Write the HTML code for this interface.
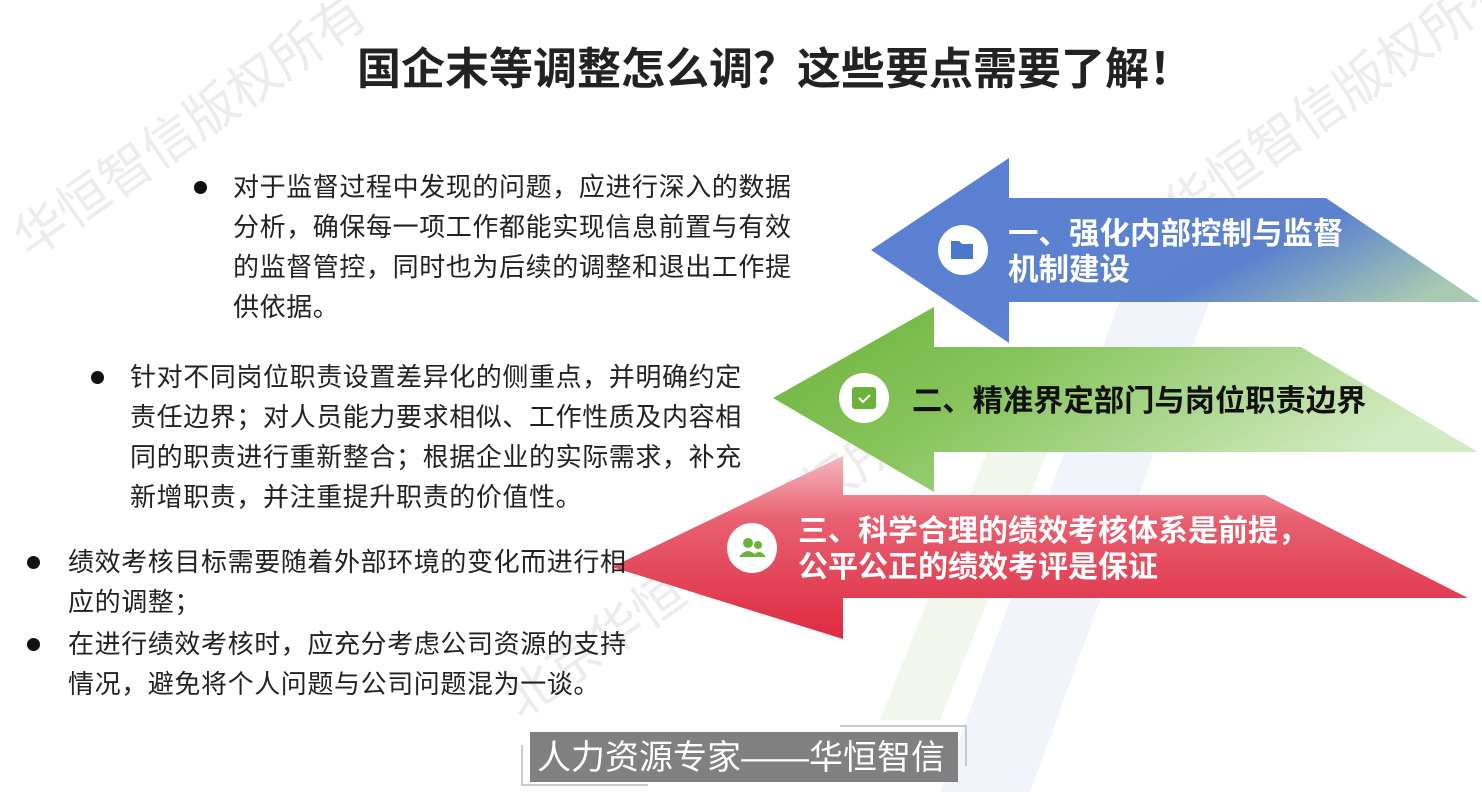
<!DOCTYPE html>
<html><head><meta charset="utf-8"><style>
html,body{margin:0;padding:0;background:#fff;}
body{width:1482px;height:792px;position:relative;overflow:hidden;font-family:"Liberation Sans","Noto Sans CJK SC",sans-serif;}
.t{position:absolute;font-size:26px;line-height:40px;color:#222;letter-spacing:0.6px;}
.b{position:absolute;width:13px;height:13px;border-radius:50%;background:#111;}
</style></head><body>
<svg width="1482" height="792" style="position:absolute;left:0;top:0">
<defs>
<linearGradient id="g1" x1="0" y1="0" x2="1" y2="0.6">
<stop offset="0" stop-color="#5a7fd2"/><stop offset="0.7" stop-color="#5c82cf"/><stop offset="1" stop-color="#a9cab1"/></linearGradient>
<linearGradient id="g2" x1="0" y1="0" x2="1" y2="0.4">
<stop offset="0" stop-color="#6db33c"/><stop offset="0.4" stop-color="#86c45a"/><stop offset="1" stop-color="#d3ebc4"/></linearGradient>
<linearGradient id="g3" x1="0" y1="0" x2="0" y2="1">
<stop offset="0" stop-color="#f4b8be"/><stop offset="0.35" stop-color="#e86070"/><stop offset="1" stop-color="#de2a42"/></linearGradient>
</defs>
<polygon points="1120,300 1210,300 1030,792 940,792" fill="#f1f4fb"/>
<polygon points="1000,420 1060,420 940,720 880,720" fill="#f1f7ec"/>
<text x="30" y="260" transform="rotate(-35 30 260)" font-size="52" fill="#ececec" font-family="Liberation Sans,Noto Sans CJK SC,sans-serif">华恒智信版权所有</text>
<text x="1180" y="230" transform="rotate(-35 1180 230)" font-size="52" fill="#ececec" font-family="Liberation Sans,Noto Sans CJK SC,sans-serif">华恒智信版权所有</text>
<text x="520" y="720" transform="rotate(-35 520 720)" font-size="52" fill="#ececec" font-family="Liberation Sans,Noto Sans CJK SC,sans-serif">北京华恒智信版权所有</text>
<polygon points="871,250 1009,158 1009,198 1326,198 1480,302 1009,302 1009,343" fill="url(#g1)"/>
<polygon points="773,398 934,307 934,347 1301,347 1478,452 934,452 934,492" fill="url(#g2)"/>
<polygon points="612,567 843,456 843,495 1265,495 1468,598 843,598 843,639" fill="url(#g3)"/>
<circle cx="963" cy="250" r="25" fill="#fff"/>
<path d="M951 241 h8 l3 3 h11 v15 h-22z" fill="#4a76cc"/>
<circle cx="864" cy="398" r="25" fill="#fff"/>
<rect x="852" y="387" width="24" height="22" rx="3" fill="#6ab23a"/>
<path d="M859 398 l4 4 l7 -7" stroke="#fff" stroke-width="2" fill="none"/>
<circle cx="752" cy="548" r="25" fill="#fff"/>
<circle cx="748" cy="543" r="5" fill="#6ab23a"/><circle cx="758" cy="545" r="4" fill="#6ab23a"/>
<path d="M739 557 q9 -12 18 0z M752 557 q7 -10 14 0z" fill="#6ab23a"/>
<text font-weight="bold" fill="#fff" font-size="30.5" font-family="Liberation Sans,Noto Sans CJK SC,sans-serif"><tspan x="1008" y="244">一、强化内部控制与监督</tspan><tspan x="1008" y="280">机制建设</tspan></text>
<text x="912" y="411" font-weight="bold" fill="#111" font-size="30.3" font-family="Liberation Sans,Noto Sans CJK SC,sans-serif">二、精准界定部门与岗位职责边界</text>
<text font-weight="bold" fill="#fff" font-size="30" font-family="Liberation Sans,Noto Sans CJK SC,sans-serif"><tspan x="798" y="541">三、科学合理的绩效考核体系是前提，</tspan><tspan x="798" y="577">公平公正的绩效考评是保证</tspan></text>
<text x="775" y="84" text-anchor="middle" font-weight="bold" fill="#222" font-size="44" font-family="Liberation Sans,Noto Sans CJK SC,sans-serif">国企末等调整怎么调？这些要点需要了解！</text>
<rect x="530" y="732" width="428" height="50" fill="#808080"/>
<path d="M522 745 V785 H648" stroke="#bbb" stroke-width="1.5" fill="none"/>
<path d="M840 726 H966 V766" stroke="#bbb" stroke-width="1.5" fill="none"/>
<text x="741" y="769" text-anchor="middle" fill="#fff" font-size="34" font-family="Liberation Sans,Noto Sans CJK SC,sans-serif">人力资源专家——华恒智信</text>
</svg>
<div class="b" style="left:194px;top:181px"></div>
<div class="t" style="left:233px;top:167px;width:570px">对于监督过程中发现的问题，应进行深入的数据分析，确保每一项工作都能实现信息前置与有效的监督管控，同时也为后续的调整和退出工作提供依据。</div>
<div class="b" style="left:91px;top:371px"></div>
<div class="t" style="left:130px;top:357px;width:620px">针对不同岗位职责设置差异化的侧重点，并明确约定责任边界；对人员能力要求相似、工作性质及内容相同的职责进行重新整合；根据企业的实际需求，补充新增职责，并注重提升职责的价值性。</div>
<div class="b" style="left:27px;top:556px"></div>
<div class="t" style="left:68px;top:542px;width:570px">绩效考核目标需要随着外部环境的变化而进行相应的调整；</div>
<div class="b" style="left:27px;top:638px"></div>
<div class="t" style="left:68px;top:624px;width:570px">在进行绩效考核时，应充分考虑公司资源的支持情况，避免将个人问题与公司问题混为一谈。</div>
</body></html>
